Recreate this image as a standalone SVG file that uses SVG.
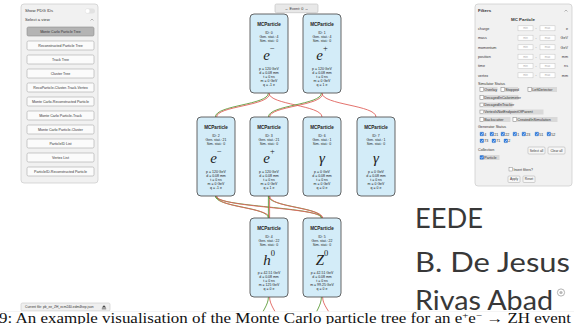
<svg xmlns="http://www.w3.org/2000/svg" width="574" height="324" viewBox="0 0 574 324">
<style>
.panel{fill:#f1f1f1;stroke:#cfcfcf;stroke-width:0.8}
.btn{fill:#fbfbfb;stroke:#a9a9a9;stroke-width:0.6}
.btnsel{fill:#b4b4b4;stroke:#8f8f8f;stroke-width:0.6}
.bt{font-family:"Liberation Sans",Arial,sans-serif;font-size:3.6px;fill:#333;text-anchor:middle}
.pl{font-family:"Liberation Sans",Arial,sans-serif;font-size:4.2px;fill:#333}
.pb{font-family:"Liberation Sans",Arial,sans-serif;font-size:4.4px;fill:#333;font-weight:bold}
.fl{font-family:"Liberation Sans",Arial,sans-serif;font-size:3.7px;fill:#333}
.ph{font-family:"Liberation Sans",Arial,sans-serif;font-size:2.8px;fill:#aaa;text-anchor:middle}
.inp{fill:#fff;stroke:#c4c4c4;stroke-width:0.5}
.cbl{fill:#d9d9d9}
.cb{fill:#fff;stroke:#777;stroke-width:0.4}
.cbc{fill:#2d7be0;stroke:#1f5fb5;stroke-width:0.3}
.chk{fill:none;stroke:#fff;stroke-width:0.6}
.node{fill:#d3ecf8;stroke:#555;stroke-width:0.9}
.nh{font-family:"Liberation Sans",Arial,sans-serif;font-size:4.6px;font-weight:bold;fill:#222;text-anchor:middle}
.ns{font-family:"Liberation Sans",Arial,sans-serif;font-size:3.5px;fill:#222;text-anchor:middle}
.sym{font-family:"Liberation Serif","Times New Roman",serif;font-size:15px;font-style:italic;fill:#222;text-anchor:middle}
.sup{font-size:8.5px;font-style:normal}
.g{fill:none;stroke:#5d9c3a;stroke-width:0.9}
.r{fill:none;stroke:#e0625c;stroke-width:0.9}
.big{font-family:Lato,"Open Sans",sans-serif;font-size:26px;fill:#383838}
.cap{font-family:"Liberation Serif","Times New Roman",serif;font-size:14px;fill:#111}
</style>
<defs>
<clipPath id="above-cap"><rect x="0" y="0" width="574" height="311.5"/></clipPath>
</defs>
<rect width="574" height="324" fill="#fff"/>

<!-- Left panel -->
<g id="view-panel">
<rect class="panel" x="21" y="4" width="77" height="179" rx="3"/>
<text class="pl" x="25" y="12">Show PDG IDs</text>
<rect x="85" y="8.5" width="10" height="5" rx="2.5" fill="#e2e2e2"/>
<circle cx="87.5" cy="11" r="2.3" fill="#fff" stroke="#ddd" stroke-width="0.3"/>
<text class="pl" x="25" y="20.5">Select a view</text>
<path d="M90.5 20.5 L92 19 L93.5 20.5" fill="none" stroke="#777" stroke-width="0.5"/>
<rect class="btnsel" x="27" y="27" width="67" height="9" rx="1.5"/>
<text class="bt" x="60.5" y="32.8">Monte Carlo Particle Tree</text>
<rect class="btn" x="27" y="41" width="67" height="9" rx="1.5"/>
<text class="bt" x="60.5" y="46.8">Reconstructed Particle Tree</text>
<rect class="btn" x="27" y="55" width="67" height="9" rx="1.5"/>
<text class="bt" x="60.5" y="60.8">Track Tree</text>
<rect class="btn" x="27" y="69" width="67" height="9" rx="1.5"/>
<text class="bt" x="60.5" y="74.8">Cluster Tree</text>
<rect class="btn" x="27" y="83" width="67" height="9" rx="1.5"/>
<text class="bt" x="60.5" y="88.8">RecoParticle-Cluster-Track-Vertex</text>
<rect class="btn" x="27" y="97" width="67" height="9" rx="1.5"/>
<text class="bt" x="60.5" y="102.8">Monte Carlo-Reconstructed Particle</text>
<rect class="btn" x="27" y="111" width="67" height="9" rx="1.5"/>
<text class="bt" x="60.5" y="116.8">Monte Carlo Particle-Track</text>
<rect class="btn" x="27" y="125" width="67" height="9" rx="1.5"/>
<text class="bt" x="60.5" y="130.8">Monte Carlo Particle-Cluster</text>
<rect class="btn" x="27" y="139" width="67" height="9" rx="1.5"/>
<text class="bt" x="60.5" y="144.8">ParticleID List</text>
<rect class="btn" x="27" y="153" width="67" height="9" rx="1.5"/>
<text class="bt" x="60.5" y="158.8">Vertex List</text>
<rect class="btn" x="27" y="167" width="67" height="9" rx="1.5"/>
<text class="bt" x="60.5" y="172.8">ParticleID-Reconstructed Particle</text>
</g>

<!-- Current file bar -->
<g id="current-file">
<rect x="21" y="303" width="89" height="8" rx="1.5" fill="#efefef" stroke="#c8c8c8" stroke-width="0.6"/>
<text class="fl" x="25" y="308.4" style="font-size:3.3px">Current file: pb_ee_ZH_ecm240.edm4hep.json</text>
<path d="M104 305.2 L106.2 307.6 L101.8 307.6 Z M101.8 308.4 H106.2 V309.2 H101.8 Z" fill="#444"/>
</g>

<!-- Event selector -->
<g id="event">
<rect x="275" y="4" width="43" height="8.7" rx="1.5" fill="#e8e8e8" stroke="#bdbdbd" stroke-width="0.6"/>
<text class="bt" x="296.5" y="9.6" style="font-size:3.8px">← Event: 0 →</text>
</g>

<!-- Connectors -->
<g id="connectors">
<path class="g" d="M268.4 93 C268.4 105 215.4 105 215.4 117"/>
<path class="r" d="M269.6 93.6 C269.6 106 216.6 106 216.6 117"/>
<path class="r" d="M269 93 C269 105 322 105 322 117"/>
<path class="g" d="M321.4 93 C321.4 105 268.4 105 268.4 117"/>
<path class="r" d="M322.6 93.6 C322.6 106 269.6 106 269.6 117"/>
<path class="r" d="M322 93 C322 105 376 105 376 117"/>

<path class="g" d="M215.4 196 C215.4 207 268.4 207 268.4 218"/>
<path class="r" d="M216.6 196 C216.6 207.6 269.6 207.6 269.6 218"/>
<path class="g" d="M215.4 196 C215.4 207 321.4 207 321.4 218"/>
<path class="r" d="M216.6 196 C216.6 207.6 322.6 207.6 322.6 218"/>
<path class="g" d="M268.4 196 V218"/>
<path class="r" d="M269.6 196 V218"/>
<path class="g" d="M268.4 196 C268.4 207 321.4 207 321.4 218"/>
<path class="r" d="M269.6 196 C269.6 207.6 322.6 207.6 322.6 218"/>

<path class="g" d="M268.4 297 C268.4 305 262 312 256 324"/>
<path class="r" d="M269.6 297 C269.6 305 276 312 282 324"/>
<path class="g" d="M321.4 297 C321.4 305 316 312 310 324"/>
<path class="r" d="M322.6 297 C322.6 305 330 312 336 324"/>
</g>

<!-- Nodes -->
<g id="n0" transform="translate(250,14)">
<rect class="node" width="38" height="79" rx="4"/>
<text class="nh" x="19" y="11.5">MCParticle</text>
<text class="ns" x="19" y="19.5">ID: 0</text>
<text class="ns" x="19" y="23.5">Gen. stat.: 4</text>
<text class="ns" x="19" y="27.5">Sim. stat.: 0</text>
<text class="sym" x="19" y="45.5">e<tspan class="sup" dy="-9">−</tspan></text>
<text class="ns" x="19" y="55.5">p = 120 GeV</text>
<text class="ns" x="19" y="59.5">d = 0.08 mm</text>
<text class="ns" x="19" y="63.5">t = 0 ns</text>
<text class="ns" x="19" y="67.5">m = 0 GeV</text>
<text class="ns" x="19" y="71.5">q = -1 e</text>
</g>
<g id="n1" transform="translate(303,14)">
<rect class="node" width="38" height="79" rx="4"/>
<text class="nh" x="19" y="11.5">MCParticle</text>
<text class="ns" x="19" y="19.5">ID: 1</text>
<text class="ns" x="19" y="23.5">Gen. stat.: 4</text>
<text class="ns" x="19" y="27.5">Sim. stat.: 0</text>
<text class="sym" x="19" y="45.5">e<tspan class="sup" dy="-9">+</tspan></text>
<text class="ns" x="19" y="55.5">p = 120 GeV</text>
<text class="ns" x="19" y="59.5">d = 0.08 mm</text>
<text class="ns" x="19" y="63.5">t = 0 ns</text>
<text class="ns" x="19" y="67.5">m = 0 GeV</text>
<text class="ns" x="19" y="71.5">q = 1 e</text>
</g>
<g id="n2" transform="translate(197,117)">
<rect class="node" width="38" height="79" rx="4"/>
<text class="nh" x="19" y="11.5">MCParticle</text>
<text class="ns" x="19" y="19.5">ID: 2</text>
<text class="ns" x="19" y="23.5">Gen. stat.: 21</text>
<text class="ns" x="19" y="27.5">Sim. stat.: 0</text>
<text class="sym" x="19" y="45.5">e<tspan class="sup" dy="-9">−</tspan></text>
<text class="ns" x="19" y="55.5">p = 120 GeV</text>
<text class="ns" x="19" y="59.5">d = 0.08 mm</text>
<text class="ns" x="19" y="63.5">t = 0 ns</text>
<text class="ns" x="19" y="67.5">m = 0 GeV</text>
<text class="ns" x="19" y="71.5">q = -1 e</text>
</g>
<g id="n3" transform="translate(250,117)">
<rect class="node" width="38" height="79" rx="4"/>
<text class="nh" x="19" y="11.5">MCParticle</text>
<text class="ns" x="19" y="19.5">ID: 3</text>
<text class="ns" x="19" y="23.5">Gen. stat.: 21</text>
<text class="ns" x="19" y="27.5">Sim. stat.: 0</text>
<text class="sym" x="19" y="45.5">e<tspan class="sup" dy="-9">+</tspan></text>
<text class="ns" x="19" y="55.5">p = 120 GeV</text>
<text class="ns" x="19" y="59.5">d = 0.08 mm</text>
<text class="ns" x="19" y="63.5">t = 0 ns</text>
<text class="ns" x="19" y="67.5">m = 0 GeV</text>
<text class="ns" x="19" y="71.5">q = 1 e</text>
</g>
<g id="n6" transform="translate(303,117)">
<rect class="node" width="38" height="79" rx="4"/>
<text class="nh" x="19" y="11.5">MCParticle</text>
<text class="ns" x="19" y="19.5">ID: 6</text>
<text class="ns" x="19" y="23.5">Gen. stat.: 1</text>
<text class="ns" x="19" y="27.5">Sim. stat.: 0</text>
<text class="sym" x="19" y="45.5">γ</text>
<text class="ns" x="19" y="55.5">p = 0 GeV</text>
<text class="ns" x="19" y="59.5">d = 0.08 mm</text>
<text class="ns" x="19" y="63.5">t = 0 ns</text>
<text class="ns" x="19" y="67.5">m = 0 GeV</text>
<text class="ns" x="19" y="71.5">q = 0 e</text>
</g>
<g id="n7" transform="translate(357,117)">
<rect class="node" width="38" height="79" rx="4"/>
<text class="nh" x="19" y="11.5">MCParticle</text>
<text class="ns" x="19" y="19.5">ID: 7</text>
<text class="ns" x="19" y="23.5">Gen. stat.: 1</text>
<text class="ns" x="19" y="27.5">Sim. stat.: 0</text>
<text class="sym" x="19" y="45.5">γ</text>
<text class="ns" x="19" y="55.5">p = 0 GeV</text>
<text class="ns" x="19" y="59.5">d = 0.08 mm</text>
<text class="ns" x="19" y="63.5">t = 0 ns</text>
<text class="ns" x="19" y="67.5">m = 0 GeV</text>
<text class="ns" x="19" y="71.5">q = 0 e</text>
</g>
<g id="n4" transform="translate(250,218)">
<rect class="node" width="38" height="79" rx="4"/>
<text class="nh" x="19" y="11.5">MCParticle</text>
<text class="ns" x="19" y="19.5">ID: 4</text>
<text class="ns" x="19" y="23.5">Gen. stat.: 22</text>
<text class="ns" x="19" y="27.5">Sim. stat.: 0</text>
<text class="sym" x="19" y="46.5">h<tspan class="sup" dy="-9">0</tspan></text>
<text class="ns" x="19" y="55.5">p = 42.51 GeV</text>
<text class="ns" x="19" y="59.5">d = 0.08 mm</text>
<text class="ns" x="19" y="63.5">t = 0 ns</text>
<text class="ns" x="19" y="67.5">m = 125 GeV</text>
<text class="ns" x="19" y="71.5">q = 0 e</text>
</g>
<g id="n5" transform="translate(303,218)">
<rect class="node" width="38" height="79" rx="4"/>
<text class="nh" x="19" y="11.5">MCParticle</text>
<text class="ns" x="19" y="19.5">ID: 5</text>
<text class="ns" x="19" y="23.5">Gen. stat.: 22</text>
<text class="ns" x="19" y="27.5">Sim. stat.: 0</text>
<text class="sym" x="19" y="46.5">Z<tspan class="sup" dy="-9">0</tspan></text>
<text class="ns" x="19" y="55.5">p = 42.51 GeV</text>
<text class="ns" x="19" y="59.5">d = 0.08 mm</text>
<text class="ns" x="19" y="63.5">t = 0 ns</text>
<text class="ns" x="19" y="67.5">m = 99.25 GeV</text>
<text class="ns" x="19" y="71.5">q = 0 e</text>
</g>

<!-- Filters panel -->
<g id="filters">
<rect class="panel" x="475" y="4" width="97" height="182" rx="3"/>
<text class="pb" x="478" y="11.5">Filters</text>
<path d="M564.5 11.5 L566 10 L567.5 11.5" fill="none" stroke="#777" stroke-width="0.5"/>
<text class="pb" x="523" y="20.5" text-anchor="middle">MC Particle</text>

<text class="fl" x="478" y="29.6">charge</text>
<rect class="inp" x="518" y="25.8" width="15" height="5"/><text class="ph" x="525.5" y="29.2">min</text>
<text class="fl" x="535.5" y="29.2" style="font-size:3px">-</text>
<rect class="inp" x="540" y="25.8" width="15" height="5"/><text class="ph" x="547.5" y="29.2">max</text>
<text class="fl" x="568" y="29.6" text-anchor="end">e</text>

<text class="fl" x="478" y="39">mass</text>
<rect class="inp" x="518" y="35.2" width="15" height="5"/><text class="ph" x="525.5" y="38.6">min</text>
<text class="fl" x="535.5" y="38.6" style="font-size:3px">-</text>
<rect class="inp" x="540" y="35.2" width="15" height="5"/><text class="ph" x="547.5" y="38.6">max</text>
<text class="fl" x="568" y="39" text-anchor="end">GeV</text>

<text class="fl" x="478" y="48.6">momentum</text>
<rect class="inp" x="518" y="44.8" width="15" height="5"/><text class="ph" x="525.5" y="48.2">min</text>
<text class="fl" x="535.5" y="48.2" style="font-size:3px">-</text>
<rect class="inp" x="540" y="44.8" width="15" height="5"/><text class="ph" x="547.5" y="48.2">max</text>
<text class="fl" x="568" y="48.6" text-anchor="end">GeV</text>

<text class="fl" x="478" y="58">position</text>
<rect class="inp" x="518" y="54.2" width="15" height="5"/><text class="ph" x="525.5" y="57.6">min</text>
<text class="fl" x="535.5" y="57.6" style="font-size:3px">-</text>
<rect class="inp" x="540" y="54.2" width="15" height="5"/><text class="ph" x="547.5" y="57.6">max</text>
<text class="fl" x="568" y="58" text-anchor="end">mm</text>

<text class="fl" x="478" y="67.3">time</text>
<rect class="inp" x="518" y="63.5" width="15" height="5"/><text class="ph" x="525.5" y="66.9">min</text>
<text class="fl" x="535.5" y="66.9" style="font-size:3px">-</text>
<rect class="inp" x="540" y="63.5" width="15" height="5"/><text class="ph" x="547.5" y="66.9">max</text>
<text class="fl" x="568" y="67.3" text-anchor="end">ns</text>

<text class="fl" x="478" y="76.6">vertex</text>
<rect class="inp" x="518" y="72.8" width="15" height="5"/><text class="ph" x="525.5" y="76.2">min</text>
<text class="fl" x="535.5" y="76.2" style="font-size:3px">-</text>
<rect class="inp" x="540" y="72.8" width="15" height="5"/><text class="ph" x="547.5" y="76.2">max</text>
<text class="fl" x="568" y="76.6" text-anchor="end">mm</text>

<text class="fl" x="478" y="84.6">Simulator Status</text>
<rect class="cbl" x="479.5" y="87" width="18" height="5"/><rect class="cb" x="480" y="87.6" width="3.6" height="3.6"/><text class="fl" x="484.3" y="90.8">Overlay</text>
<rect class="cbl" x="500.5" y="87" width="17.5" height="5"/><rect class="cb" x="501" y="87.6" width="3.6" height="3.6"/><text class="fl" x="505.3" y="90.8">Stopped</text>
<rect class="cbl" x="527.5" y="87" width="29.5" height="5"/><rect class="cb" x="528" y="87.6" width="3.6" height="3.6"/><text class="fl" x="532.3" y="90.8">LeftDetector</text>
<rect class="cbl" x="479.5" y="95" width="39" height="5"/><rect class="cb" x="480" y="95.6" width="3.6" height="3.6"/><text class="fl" x="484.3" y="98.8">DecayedInCalorimeter</text>
<rect class="cbl" x="479.5" y="102.5" width="33" height="5"/><rect class="cb" x="480" y="103.1" width="3.6" height="3.6"/><text class="fl" x="484.3" y="106.3">DecayedInTracker</text>
<rect class="cbl" x="479.5" y="109.5" width="64" height="5"/><rect class="cb" x="480" y="110.1" width="3.6" height="3.6"/><text class="fl" x="484.3" y="113.3">VertexIsNotEndpointOfParent</text>
<rect class="cbl" x="479.5" y="117" width="31" height="5"/><rect class="cb" x="480" y="117.6" width="3.6" height="3.6"/><text class="fl" x="484.3" y="120.8">Backscatter</text>
<rect class="cbl" x="512.5" y="117" width="45" height="5"/><rect class="cb" x="513" y="117.6" width="3.6" height="3.6"/><text class="fl" x="517.3" y="120.8">CreatedInSimulation</text>

<text class="fl" x="478" y="128">Generator Status</text>
<g>
<rect class="cbc" x="480" y="132.2" width="3.6" height="3.6" rx="0.5"/><path class="chk" d="M480.7 134 L481.6 134.9 L482.9 133.1"/><text class="fl" x="484.2" y="135.5">4</text>
<rect class="cbc" x="490" y="132.2" width="3.6" height="3.6" rx="0.5"/><path class="chk" d="M490.7 134 L491.6 134.9 L492.9 133.1"/><text class="fl" x="494.2" y="135.5">21</text>
<rect class="cbc" x="501" y="132.2" width="3.6" height="3.6" rx="0.5"/><path class="chk" d="M501.7 134 L502.6 134.9 L503.9 133.1"/><text class="fl" x="505.2" y="135.5">22</text>
<rect class="cbc" x="513" y="132.2" width="3.6" height="3.6" rx="0.5"/><path class="chk" d="M513.7 134 L514.6 134.9 L515.9 133.1"/><text class="fl" x="517.2" y="135.5">1</text>
<rect class="cbc" x="522" y="132.2" width="3.6" height="3.6" rx="0.5"/><path class="chk" d="M522.7 134 L523.6 134.9 L524.9 133.1"/><text class="fl" x="526.2" y="135.5">23</text>
<rect class="cbc" x="535" y="132.2" width="3.6" height="3.6" rx="0.5"/><path class="chk" d="M535.7 134 L536.6 134.9 L537.9 133.1"/><text class="fl" x="539.2" y="135.5">51</text>
<rect class="cbc" x="547" y="132.2" width="3.6" height="3.6" rx="0.5"/><path class="chk" d="M547.7 134 L548.6 134.9 L549.9 133.1"/><text class="fl" x="551.2" y="135.5">52</text>
<rect class="cbc" x="480" y="139" width="3.6" height="3.6" rx="0.5"/><path class="chk" d="M480.7 140.8 L481.6 141.7 L482.9 139.9"/><text class="fl" x="484.2" y="142.3">73</text>
<rect class="cbc" x="492" y="139" width="3.6" height="3.6" rx="0.5"/><path class="chk" d="M492.7 140.8 L493.6 141.7 L494.9 139.9"/><text class="fl" x="496.2" y="142.3">71</text>
<rect class="cbc" x="504" y="139" width="3.6" height="3.6" rx="0.5"/><path class="chk" d="M504.7 140.8 L505.6 141.7 L506.9 139.9"/><text class="fl" x="508.2" y="142.3">2</text>
</g>
<text class="fl" x="478" y="150.5">Collection</text>
<rect x="528" y="147" width="17" height="7" rx="1" fill="#f7f7f7" stroke="#a8a8a8" stroke-width="0.5"/>
<text class="bt" x="536.5" y="151.6" style="font-size:3.3px">Select all</text>
<rect x="548" y="147" width="17" height="7" rx="1" fill="#f7f7f7" stroke="#a8a8a8" stroke-width="0.5"/>
<text class="bt" x="556.5" y="151.6" style="font-size:3.3px">Clear all</text>
<rect class="cbl" x="479.5" y="155" width="20" height="5"/>
<rect class="cbc" x="480" y="155.6" width="3.6" height="3.6" rx="0.5"/><path class="chk" d="M480.7 157.4 L481.6 158.3 L482.9 156.5"/>
<text class="fl" x="484.3" y="158.8">Particle</text>
<rect class="cb" x="509" y="167.6" width="3.4" height="3.4"/>
<text class="fl" x="513.5" y="170.7" style="font-size:3.4px">Invert filters?</text>
<rect x="508" y="176" width="12" height="6.5" rx="1" fill="#f7f7f7" stroke="#a8a8a8" stroke-width="0.5"/>
<text class="bt" x="514" y="180.3" style="font-size:3.2px">Apply</text>
<rect x="523" y="176" width="12" height="6.5" rx="1" fill="#f7f7f7" stroke="#a8a8a8" stroke-width="0.5"/>
<text class="bt" x="529" y="180.3" style="font-size:3.2px">Reset</text>
</g>

<!-- Author text -->
<g id="author">
<text class="big" x="415" y="228.3" textLength="68" lengthAdjust="spacingAndGlyphs">EEDE</text>
<text class="big" x="415" y="271.7" textLength="155" lengthAdjust="spacingAndGlyphs">B. De Jesus</text>
<text class="big" x="415" y="310" textLength="138" lengthAdjust="spacingAndGlyphs" clip-path="url(#above-cap)">Rivas Abad</text>
<circle cx="561" cy="292.5" r="3.6" fill="none" stroke="#a0a0a0" stroke-width="0.8"/>
<circle cx="561" cy="292.5" r="1.6" fill="#b8b8b8"/>
</g>

<!-- Caption -->
<g id="caption">
<rect x="0" y="311.5" width="574" height="12.5" fill="#fff"/>
<line x1="0" y1="311.5" x2="574" y2="311.5" stroke="#ececec" stroke-width="0.6"/>
<text class="cap" x="-1" y="322.5" textLength="572" lengthAdjust="spacingAndGlyphs">9: An example visualisation of the Monte Carlo particle tree for an e<tspan font-size="9" dy="-5">+</tspan><tspan dy="5">e</tspan><tspan font-size="9" dy="-5">−</tspan><tspan dy="5"> → ZH event</tspan></text>
</g>
</svg>
